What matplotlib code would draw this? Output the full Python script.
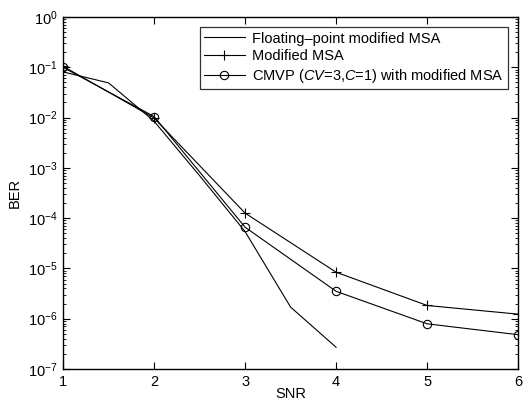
import numpy as np
import matplotlib
matplotlib.use('Agg')
import matplotlib.pyplot as plt
from matplotlib.ticker import FixedLocator, NullFormatter

plt.rcParams['font.family'] = ['Liberation Sans', 'DejaVu Sans']
plt.rcParams['mathtext.fontset'] = 'custom'
plt.rcParams['mathtext.rm'] = 'Liberation Sans'
plt.rcParams['mathtext.it'] = 'Liberation Sans:italic'

# floating-point curve
snr_fp = [1, 1.5, 2, 2.5, 3, 3.5, 4]
ber_fp = [0.081, 0.049, 0.0085, 7e-4, 5.4e-5, 1.7e-6, 2.7e-7]

# modified MSA
snr = [1, 2, 3, 4, 5, 6]
ber_mod = [0.105, 0.0098, 1.26e-4, 8.4e-6, 1.83e-6, 1.23e-6]

# CMVP with modified MSA
ber_cmvp = [0.1, 0.0105, 6.6e-5, 3.5e-6, 7.9e-7, 4.8e-7]

labels = ['Floating\u2013point modified MSA', 'Modified MSA',
          r'CMVP ($\mathit{CV}$=3,$\mathit{C}$=1) with modified MSA']

fig = plt.figure(figsize=(5.25, 4.05), dpi=100)
ax = fig.add_axes([0.12, 0.089, 0.867, 0.869])

ax.semilogy(snr_fp, ber_fp, color='black', lw=0.8, label=labels[0])
ax.semilogy(snr, ber_mod, color='black', lw=0.8, marker='+', ms=7,
            mew=0.8, label=labels[1])
ax.semilogy(snr, ber_cmvp, color='black', lw=0.8, marker='o', ms=6,
            mfc='none', mew=0.8, label=labels[2])

ax.set_xlim(1, 6)
ax.set_ylim(1e-7, 1)
ax.set_xticks([1, 2, 3, 4, 5, 6])
decades = list(range(-7, 1))
ax.set_yticks([10.0 ** k for k in decades])
ax.set_yticklabels([r'$10^{%d}$' % k for k in decades])
minors = [m * 10.0 ** k for k in decades[:-1] for m in range(2, 10)]
ax.yaxis.set_minor_locator(FixedLocator(minors))
ax.yaxis.set_minor_formatter(NullFormatter())
ax.tick_params(which='both', direction='in', top=True, right=True, labelsize=10.5)
ax.tick_params(which='major', length=5, pad=4)
ax.tick_params(which='minor', length=2.5)
for s in ax.spines.values():
    s.set_linewidth(1.0)

ax.set_xlabel('SNR', fontsize=10.5, labelpad=-1)
ax.set_ylabel('BER', fontsize=10.5, labelpad=4)

leg = ax.legend(loc='upper right', fontsize=10.5, frameon=True, fancybox=False,
                edgecolor='black', borderaxespad=0.7, handlelength=2.8,
                labelspacing=0.25, borderpad=0.3, handletextpad=0.5)
leg.get_frame().set_linewidth(0.9)

fig.savefig('out.png', dpi=100)
